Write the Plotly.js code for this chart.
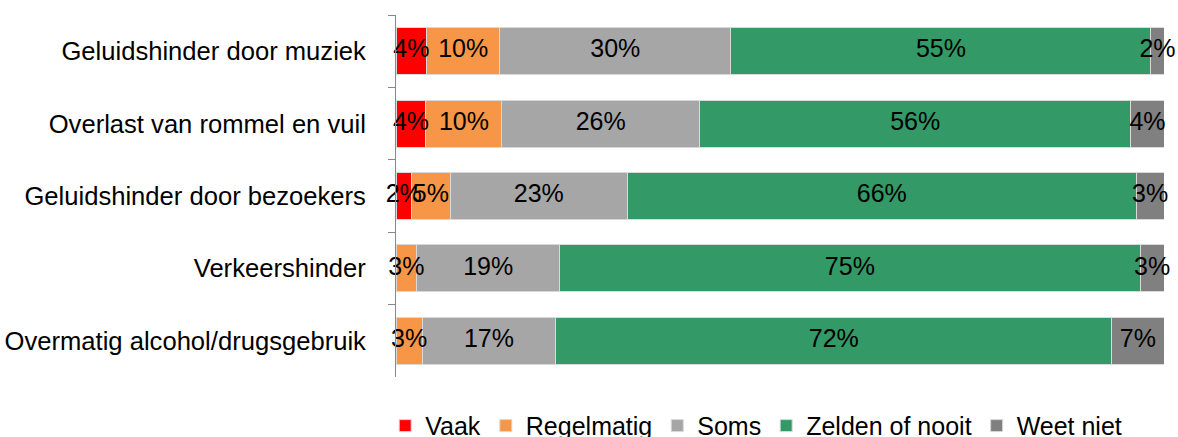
<!DOCTYPE html>
<html>
<head>
<meta charset="utf-8">
<script src="https://cdn.plot.ly/plotly-3.0.1.min.js"></script>
<style>html,body{margin:0;padding:0;background:#fff}#chart{width:1178px;height:437px}</style>
</head>
<body>
<div id="chart"></div>
<script>
const categories = [
  "Geluidshinder door muziek",
  "Overlast van rommel en vuil",
  "Geluidshinder door bezoekers",
  "Verkeershinder",
  "Overmatig alcohol/drugsgebruik"
];
const seriesNames = ["Vaak", "Regelmatig", "Soms", "Zelden of nooit", "Weet niet"];
const vaak        = [4.0, 3.9, 2.0, 0, 0];
const regelmatig  = [9.5, 9.9, 5.1, 2.7, 3.4];
const soms        = [30.1, 25.7, 23.0, 18.6, 17.4];
const zelden      = [54.7, 56.2, 66.3, 75.6, 72.4];
const weetNiet    = [1.7, 4.3, 3.6, 3.1, 6.8];
const vaakLabels       = ["4%", "4%", "2%", "", ""];
const regelmatigLabels = ["10%", "10%", "5%", "3%", "3%"];
const somsLabels       = ["30%", "26%", "23%", "19%", "17%"];
const zeldenLabels     = ["55%", "56%", "66%", "75%", "72%"];
const weetNietLabels   = ["2%", "4%", "3%", "3%", "7%"];
const colors = ["#FF0000", "#F79646", "#A6A6A6", "#339966", "#808080"];
const values = [vaak, regelmatig, soms, zelden, weetNiet];
const labels = [vaakLabels, regelmatigLabels, somsLabels, zeldenLabels, weetNietLabels];

const font = "Liberation Sans, Arial, sans-serif";
const fs = 25;
const traces = [];
seriesNames.forEach((name, i) => {
  traces.push({
    type: "bar",
    orientation: "h",
    name: name,
    y: categories,
    x: values[i],
    textposition: "none",
    marker: {color: colors[i], line: {color: "#D9D9D9", width: 1}},
    hoverinfo: "x+y+name"
  });
});
// value labels centred on each segment (midpoint of the stacked segment)
seriesNames.forEach((name, i) => {
  const mids = categories.map((c, k) => {
    let start = 0;
    for (let j = 0; j < i; j++) start += values[j][k];
    return start + values[i][k] / 2;
  });
  traces.push({
    type: "scatter",
    mode: "text",
    x: mids,
    y: categories,
    text: labels[i],
    textposition: "middle center",
    textfont: {family: font, size: fs, color: "#000"},
    cliponaxis: false,
    showlegend: false,
    hoverinfo: "skip"
  });
});

const layout = {
  width: 1178, height: 437,
  margin: {l: 396, r: 14, t: 15, b: 60, autoexpand: false},
  barmode: "stack",
  bargap: 0.35,
  paper_bgcolor: "#fff",
  plot_bgcolor: "#fff",
  font: {family: font, size: fs, color: "#000"},
  xaxis: {range: [0, 100], visible: false, fixedrange: true},
  yaxis: {
    type: "category",
    autorange: "reversed",
    showline: true, linecolor: "#888", linewidth: 1,
    ticks: "outside", ticklen: 7, tickcolor: "#888", tickwidth: 1,
    tickson: "boundaries",
    ticklabelstandoff: 24,
    showgrid: false, zeroline: false,
    tickfont: {family: font, size: 25.6, color: "#000"}
  },
  showlegend: true,
  legend: {
    orientation: "h", x: 0.469, xanchor: "center", y: -0.135, yanchor: "middle",
    font: {family: font, size: fs, color: "#000"},
    itemwidth: 30, traceorder: "normal"
  }
};
Plotly.newPlot("chart", traces, layout, {staticPlot: true});
</script>
</body>
</html>
